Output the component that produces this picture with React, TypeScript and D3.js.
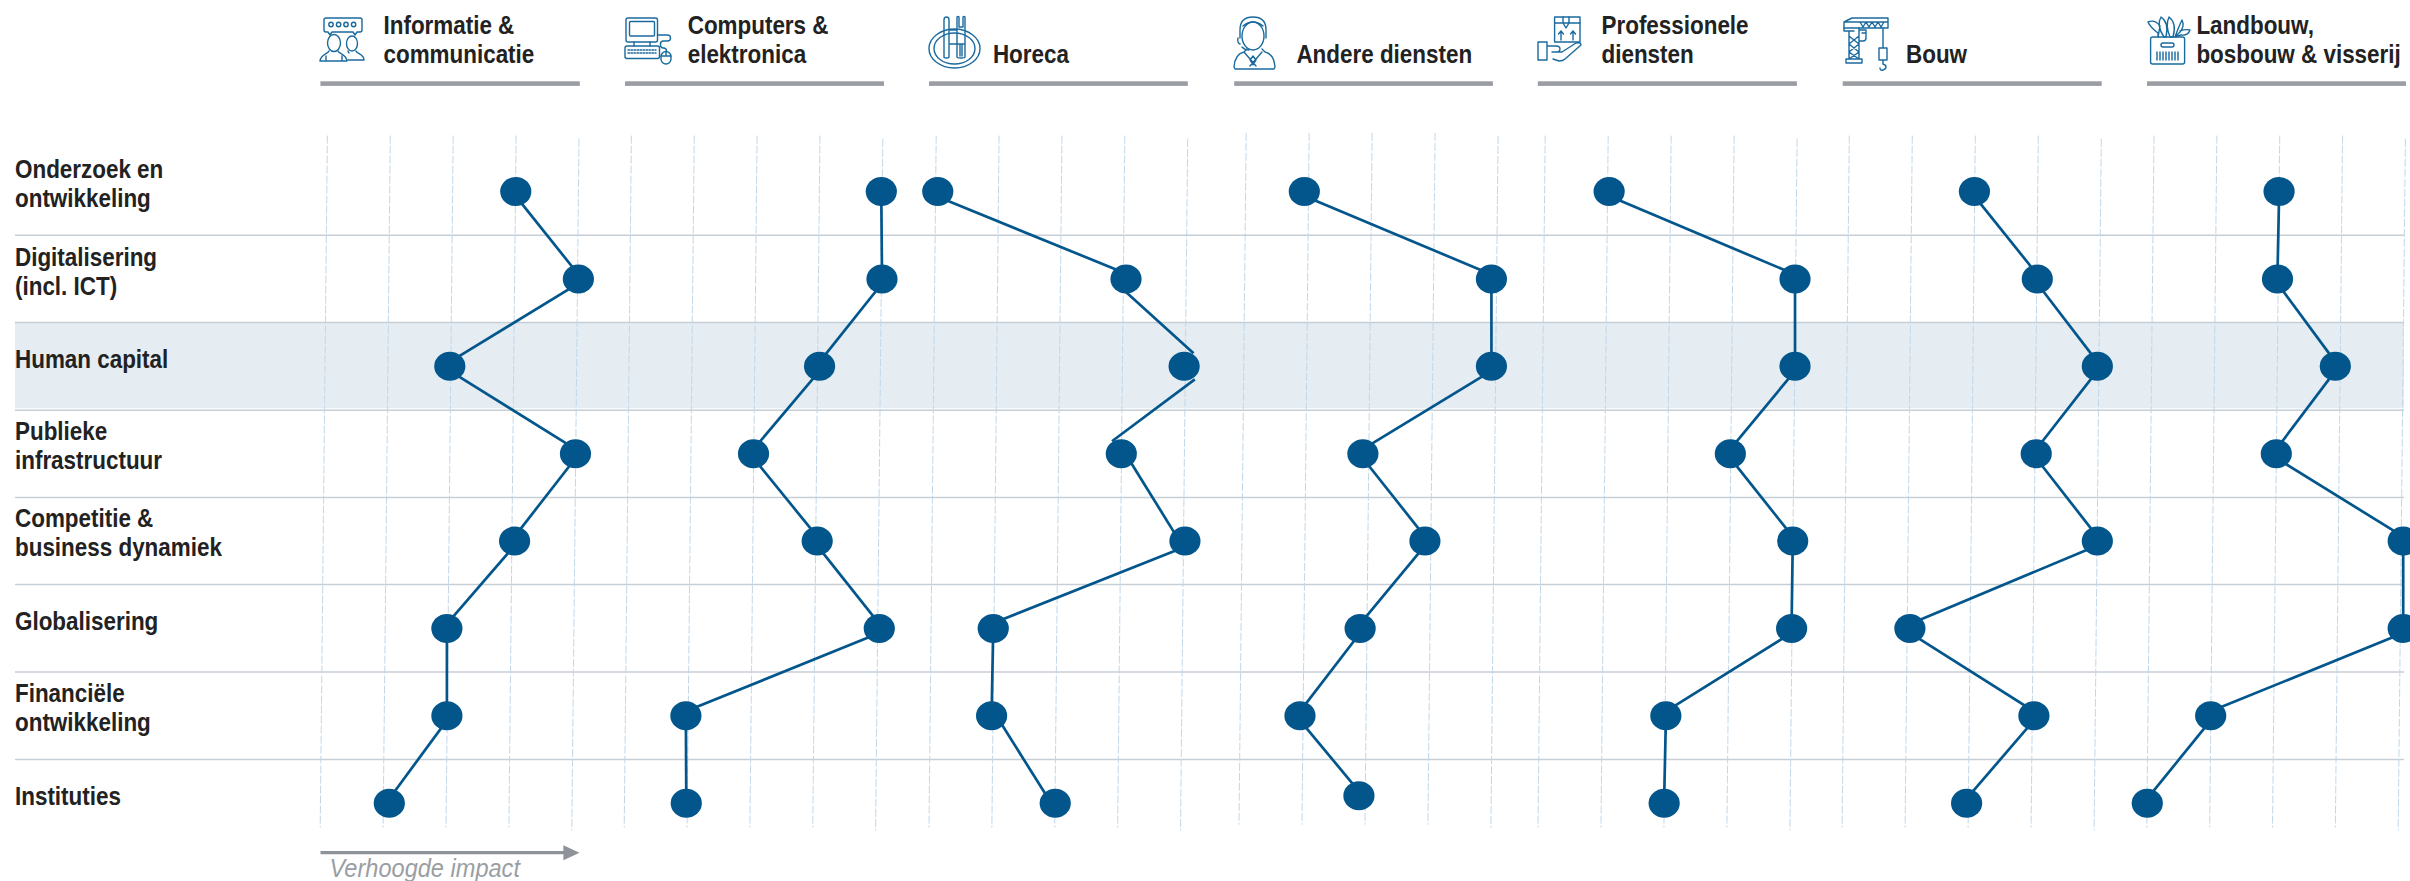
import React from "react";
import * as d3 from "d3";

const rows = ["Onderzoek en ontwikkeling", "Digitalisering (incl. ICT)", "Human capital", "Publieke infrastructuur", "Competitie & business dynamiek", "Globalisering", "Financiële ontwikkeling", "Instituties"];
const rowLabelLines = [["Onderzoek en", "ontwikkeling"], ["Digitalisering", "(incl. ICT)"], ["Human capital"], ["Publieke", "infrastructuur"], ["Competitie &", "business dynamiek"], ["Globalisering"], ["Financiële", "ontwikkeling"], ["Instituties"]];

const sectors = ["Informatie & communicatie", "Computers & elektronica", "Horeca", "Andere diensten", "Professionele diensten", "Bouw", "Landbouw, bosbouw & visserij"];
const sectorLines = [["Informatie &", "communicatie"], ["Computers &", "elektronica"], ["", "Horeca"], ["", "Andere diensten"], ["Professionele", "diensten"], ["", "Bouw"], ["Landbouw,", "bosbouw & visserij"]];

const infoComm = [2.995, 3.99, 1.946, 3.944, 2.976, 1.9, 1.9, 0.984];
const computers = [3.976, 3.987, 2.994, 1.943, 2.956, 3.944, 0.867, 0.873];
const horeca = [0.025, 3.019, 3.943, 2.944, 3.956, 0.907, 0.881, 1.893];
const andere = [0.923, 3.894, 3.894, 1.853, 2.838, 1.809, 0.854, 1.79];
const professionele = [1.015, 3.967, 3.967, 2.94, 3.93, 3.913, 1.916, 1.889];
const bouw = [1.986, 2.984, 3.937, 2.967, 3.937, 0.962, 2.93, 1.862];
const landbouw = [1.99, 1.965, 2.885, 1.946, 3.965, 3.965, 0.902, -0.107];
const series = [infoComm, computers, horeca, andere, professionele, bouw, landbouw];
const ticks = [0, 1, 2, 3, 4];

// Horeca's connecting line does not pass exactly through its dots
const horecaLineFrom = [-0.18, 2.79, 4.39, 3.01, 4.19, 0.907, 0.956];
const horecaLineTo = [3.23, 4.32, 2.53, 3.87, 0.69, 0.881, 1.83];
const horecaTrimStart = [6, 6, 13, 4, 6, 4, 4];
const horecaTrimEnd = [6, 13, 12.5, 4, 6, 4, 4];

const gridLeft = [327.4, 631.4, 936.2, 1246.2, 1545.2, 1849.3, 2154];
const gridRight = [579, 882.8, 1187.7, 1498.1, 1797.1, 2101.3, 2405.4];
const ruleLeft = [320.4, 625, 929, 1234.2, 1537.8, 1842.7, 2147];
const ruleRight = [579.8, 884, 1187.8, 1492.9, 1796.9, 2101.7, 2406];
const labelX = [383.5, 687.7, 992.9, 1296.4, 1601.5, 1906, 2196.4];
const rowBaselines = [178, 265.5, 368, 440, 527, 630, 702, 805];
const separators = [235.2, 322.5, 410.2, 497.4, 584.6, 671.9, 759.6];

const BLUE = "#03568c";
const ICON = "#1a6a9e";
const GREY = "#9a9ea3";
const TILT = -7.2;
const INSET = 4.5;
const NARROW = 0.88;
const FONT = "'Liberation Sans', Arial, sans-serif";

const y = d3.scalePoint<string>().domain(rows).range([191.6, 803.2]);
const iconStyle = { fill: "none", stroke: ICON, strokeWidth: 1.4, strokeLinejoin: "round" as const, strokeLinecap: "round" as const };

function NarrowText({ x, y: by, children, weight = 700, italic = false, fill = "#222", sx = NARROW }: any) {
  return (
    <text transform={`translate(${x},${by}) scale(${sx},1)`} fontWeight={weight} fontStyle={italic ? "italic" : "normal"} fontSize={25.5} fill={fill}>
      {children}
    </text>
  );
}

function Icons() {
  return (
    <g {...iconStyle}>
      {/* Informatie */}
      <path d="M326 18h34q2 0 2 2v10q0 2-2 2h-3l-2 3-2-3h-21l-2 3-2-3h-2q-2 0-2-2V20q0-2 2-2z" />
      {[331, 338.6, 346, 353.6].map((x) => <circle key={x} cx={x} cy={24.5} r={2.2} />)}
      <ellipse cx={334} cy={43} rx={6.5} ry={8.5} />
      <path d="M329 51c-1 3-8 3-9 10h27c-1-7-8-7-9-10M326 61v-5M342 61v-5" />
      <ellipse cx={352} cy={43.5} rx={5.5} ry={7.5} />
      <path d="M348 51c0 1 0 1 1 2M356 51c1 3 8 3 8 9h-16" />
      {/* Computers */}
      <rect x={626} y={18} width={31.5} height={24} rx={2} />
      <rect x={629.5} y={21.5} width={25} height={14.5} rx={1} />
      <path d="M634 42v4M650 42v4M657.5 35h10q3 0 3 3t-3 3h-4q-3 0-3 3v1q0 3 3 3t3 3" />
      <rect x={625} y={46} width={34.5} height={12.5} rx={2} />
      <path d="M628 50h28M628 53h28" strokeDasharray="1.5 1.5" />
      <rect x={661} y={51.5} width={10} height={12.5} rx={5} />
      <path d="M661 56h10M666 52v4" />
      {/* Horeca */}
      <ellipse cx={954.5} cy={48.5} rx={25.5} ry={19.5} />
      <ellipse cx={954.5} cy={48.5} rx={20.5} ry={15.5} />
      <path d="M944 57V20q0-3 2.500-3t2.500 3v37q0 1-2.500 1t-2.500-1zM957 17v40q0 1 4 1t4-1V17q-1-1-2 0v10h-4V17q-1-1-2 0zM949 30h8M950 44h14M960 44v12M962 44v12" />
      {/* Andere diensten */}
      <ellipse cx={1253} cy={36} rx={11} ry={14} />
      <path d="M1240 38v-8q0-13 13-13t13 13v8M1243 26q10-8 20 0M1238 38q-1 5 2 6M1242 47q3 3 7 3" />
      <path d="M1247 49l-3 3q-9 2-10 15l1 2h39l1-2q-1-13-10-15l-3-3M1244 52l12 14M1262 52l-12 14M1253 56l-3 4 3 5 3-5z" />
      {/* Professionele */}
      <rect x={1554.6} y={17} width={25.4} height={25} />
      <path d="M1554.6 23h25.400M1563 17v6l3 5 3-5v-6M1561 40v-9M1558.500 34l2.500-3 2.500 3M1573 40v-9M1570.500 34l2.500-3 2.500 3" />
      <path d="M1538 42h9v18h-9zM1547 46h9q4 0 4 3t-4 3h-4M1556 52h6l14-9q5-1 5 2l-16 14q-2 2-6 2l-6-2" />
      {/* Bouw */}
      <path d="M1844 22h44v6h-44zM1844 22l8-4h36v4M1860 22l3 5 3-5 3 5 3-5 3 5 3-5 3 5 3-5" />
      <path d="M1844 28v3h10M1849 31v28M1859 28v31M1849 36l10 8-10 8 10 7M1859 36l-10 8 10 8-10 7M1846 59h16v4h-16zM1859 30h7v8q0 3-3 3h-4M1862 33h3" />
      <path d="M1883 28v20M1879 48h8v12h-8zM1883 60v4q3 1 3 3t-3 3-3-2" />
      {/* Landbouw */}
      <rect x={2150.6} y={37} width={34} height={27} rx={2} />
      <rect x={2161} y={43} width={13} height={4} rx={2} />
      <path d="M2157 52v8M2160 52v8M2163 52v8M2166 52v8M2169 52v8M2172 52v8M2175 52v8M2178 52v8" />
      <path d="M2158 37v-4q-8-6-10-11 7-3 12 4zM2164 37q-8-12-3-20 8 5 5 20zM2170 37q-5-12-1-20 8 6 4 20zM2175 37l3-8q3-7 4-9 3 6-2 12zM2180 31q5-2 10-1-2 6-9 5l-6 2" />
    </g>
  );
}

export default function App() {
  const lineGen = d3.line<[number, number]>();
  return (
    <svg width={2410} height={881} style={{ position: "absolute", left: 0, top: 0, display: "block", background: "#fff" }} fontFamily={FONT}>
      <rect x={15} y={322} width={2389} height={86.3} fill="#e5edf3" />
      {separators.map((s) => <line key={s} x1={15} x2={2404} y1={s} y2={s} stroke="#c6ced6" strokeWidth={1.5} />)}

      {series.map((vals, p) => {
        const x = d3.scaleLinear().domain([0, 4]).range([gridLeft[p], gridRight[p]]);
        const panelShift = p === 3 ? -2.8 : 0;
        const pts = vals.map((v, i) => ({
          x: x(v),
          y: (y(rows[i]) as number) + (p === 3 && i === 7 ? -7.4 : 0),
        }));
        const segments = pts.slice(0, -1).map((a, i): [number, number][] => {
          const b = pts[i + 1];
          if (p === 2) {
            const along = d3.scaleLinear().domain([a.y, b.y]).range([x(horecaLineFrom[i]), x(horecaLineTo[i])]);
            const y0 = a.y + horecaTrimStart[i];
            const y1 = b.y - horecaTrimEnd[i];
            return [[along(y0), y0], [along(y1), y1]];
          }
          return [[a.x, a.y + INSET], [b.x, b.y - INSET]];
        });
        return (
          <g key={sectors[p]}>
            {ticks.map((t) => (
              <line key={t} x1={x(t)} x2={x(t) + TILT}
                y1={(t === 4 ? 138.8 : 135.6) + panelShift}
                y2={(t === 4 ? 830.5 : 827.5) + panelShift}
                stroke="#c2d8e9" strokeWidth={1} strokeDasharray="8 2" />
            ))}
            {segments.map((s, i) => <path key={i} d={lineGen(s) as string} fill="none" stroke={BLUE} strokeWidth={2.7} />)}
            {pts.map((d, i) => <ellipse key={i} cx={d.x} cy={d.y} rx={15.6} ry={14.5} fill={BLUE} />)}
            <rect x={ruleLeft[p]} y={81.3} width={ruleRight[p] - ruleLeft[p]} height={4.6} fill={GREY} />
            <NarrowText x={labelX[p]} y={34}>{sectorLines[p][0]}</NarrowText>
            <NarrowText x={labelX[p]} y={63}>{sectorLines[p][1]}</NarrowText>
          </g>
        );
      })}

      <Icons />

      {rowLabelLines.map((lines, i) => (
        <g key={rows[i]}>
          {lines.map((l, j) => <NarrowText key={l} x={15} y={rowBaselines[i] + j * 29}>{l}</NarrowText>)}
        </g>
      ))}

      <line x1={320.5} x2={565} y1={852.7} y2={852.7} stroke="#8e9299" strokeWidth={3.3} />
      <path d="M563.4 845.2L579.5 852.7L563.4 860.2Z" fill="#8e9299" />
      <NarrowText x={329.5} y={877} weight={400} italic fill={GREY} sx={0.925}>Verhoogde impact</NarrowText>
    </svg>
  );
}
